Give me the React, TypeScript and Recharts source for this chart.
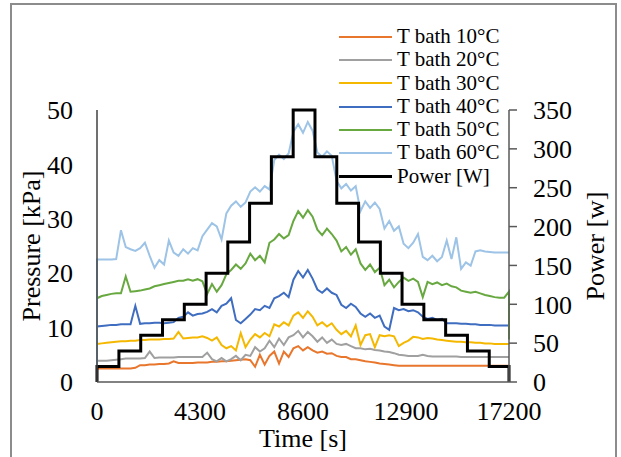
import React from "react";
import {LineChart, Line, XAxis, YAxis, Label} from "recharts";

const serif = "'Liberation Serif', 'Times New Roman', serif";

// time grid [s], every 200 s
const times = [
    0, 200, 400, 600, 800, 1000, 1200, 1400, 1600, 1800,
    2000, 2200, 2400, 2600, 2800, 3000, 3200, 3400, 3600, 3800,
    4000, 4200, 4400, 4600, 4800, 5000, 5200, 5400, 5600, 5800,
    6000, 6200, 6400, 6600, 6800, 7000, 7200, 7400, 7600, 7800,
    8000, 8200, 8400, 8600, 8800, 9000, 9200, 9400, 9600, 9800,
    10000, 10200, 10400, 10600, 10800, 11000, 11200, 11400, 11600, 11800,
    12000, 12200, 12400, 12600, 12800, 13000, 13200, 13400, 13600, 13800,
    14000, 14200, 14400, 14600, 14800, 15000, 15200, 15400, 15600, 15800,
    16000, 16200, 16400, 16600, 16800, 17000, 17200,
];

// pressure [kPa]
const tBath10 = [
    2.5, 2.5, 2.5, 2.5, 2.5, 2.5, 2.5, 2.5, 2.6, 3.1,
    3.1, 3.2, 3.2, 3.3, 3.3, 3.4, 3.8, 3.5, 3.5, 3.5,
    3.5, 3.6, 3.6, 3.6, 3.7, 3.7, 3.8, 3.8, 3.9, 4.0,
    4.1, 4.2, 4.0, 2.8, 5.0, 3.2, 4.8, 5.6, 3.4, 5.6,
    4.6, 6.2, 6.6, 5.8, 6.4, 5.8, 5.4, 5.6, 5.2, 5.3,
    4.8, 4.6, 4.6, 4.2, 4.2, 4.0, 3.8, 3.7, 3.6, 3.4,
    3.3, 3.2, 3.1, 3.0, 3.0, 3.0, 3.0, 3.0, 3.0, 3.0,
    3.0, 3.0, 3.0, 3.0, 3.0, 3.0, 3.0, 3.0, 3.0, 3.0,
    3.0, 3.0, 3.0, 3.0, 3.0, 3.0, 3.0,
];
const tBath20 = [
    3.9, 3.9, 3.9, 4.0, 4.1, 4.2, 4.3, 4.3, 4.3, 4.3,
    4.4, 5.6, 4.4, 4.5, 4.5, 4.5, 4.5, 4.6, 4.6, 4.6,
    4.6, 4.6, 4.6, 5.4, 4.2, 3.8, 4.4, 3.8, 4.2, 4.8,
    4.0, 5.0, 4.8, 6.4, 5.6, 6.2, 7.6, 6.4, 8.0, 6.8,
    8.2, 8.6, 9.4, 8.2, 9.2, 8.4, 7.4, 8.2, 7.2, 7.8,
    7.0, 6.8, 7.0, 6.6, 6.2, 6.2, 6.0, 6.1, 5.9, 5.8,
    5.6, 5.5, 5.3, 5.0, 4.9, 4.8, 4.8, 4.8, 5.0, 4.8,
    4.7, 4.7, 4.7, 4.7, 4.7, 4.7, 4.6, 4.6, 4.6, 4.6,
    4.6, 4.6, 4.6, 4.6, 4.6, 4.6, 4.6,
];
const tBath30 = [
    7.0, 7.1, 7.2, 7.3, 7.4, 7.5, 7.5, 7.6, 7.6, 7.7,
    7.7, 7.8, 7.8, 7.8, 7.9, 7.9, 8.0, 9.2, 8.0, 8.1,
    8.2, 8.2, 8.4, 8.1, 7.6, 8.2, 6.8, 6.2, 6.6, 5.8,
    9.0, 6.4, 7.8, 8.8, 8.2, 9.0, 8.4, 10.6, 10.2, 11.0,
    10.4, 12.2, 12.8, 11.8, 13.0, 12.0, 10.4, 11.0, 10.2, 10.8,
    9.6, 8.8, 9.4, 8.4, 10.4, 6.8, 8.6, 8.8, 6.4, 8.6,
    8.4, 8.6, 8.4, 6.6, 7.2, 7.6, 8.3, 8.2, 7.9, 8.1,
    8.0, 7.8, 7.7, 7.6, 7.5, 7.4, 7.4, 7.3, 7.3, 7.2,
    7.2, 7.1, 7.1, 7.0, 7.0, 7.0, 7.0,
];
const tBath40 = [
    10.2, 10.3, 10.4, 10.5, 10.5, 10.6, 10.6, 10.6, 14.0, 10.7,
    10.8, 10.8, 10.9, 10.9, 10.8, 10.9, 11.0, 11.8, 12.0, 12.8,
    12.2, 12.5, 12.6, 12.9, 13.4, 12.8, 14.0, 14.4, 15.4, 11.4,
    10.8, 11.6, 12.4, 13.4, 13.2, 14.0, 13.6, 15.4, 15.8, 16.4,
    15.6, 18.8, 20.4, 19.2, 20.6, 19.0, 17.0, 16.4, 17.2, 16.4,
    16.0, 14.2, 13.6, 14.4, 13.8, 12.6, 12.0, 12.6, 11.8, 12.2,
    10.2, 9.6, 13.6, 13.2, 13.4, 13.0, 13.2, 12.8, 12.0, 11.6,
    11.8, 11.4, 11.6, 10.8, 10.8, 10.8, 10.7, 10.7, 10.6, 10.6,
    10.5, 10.5, 10.5, 10.4, 10.4, 10.4, 10.4,
];
const tBath50 = [
    15.4, 15.8, 16.0, 16.2, 16.3, 16.3, 19.4, 16.6, 16.7, 16.8,
    17.0, 17.2, 17.6, 17.8, 18.0, 18.2, 18.4, 18.6, 18.6, 18.9,
    18.6, 18.9, 18.5, 16.2, 18.0, 16.6, 17.8, 19.8, 20.6, 21.6,
    20.8, 21.8, 23.6, 22.4, 23.2, 22.0, 25.6, 26.2, 27.2, 26.4,
    27.0, 29.6, 31.4, 30.2, 31.6, 30.4, 28.0, 27.0, 28.2, 27.2,
    26.0, 24.0, 24.8, 23.4, 24.4, 21.8, 20.6, 21.6, 20.2, 21.0,
    17.8, 18.8, 17.4, 18.4, 19.2, 18.6, 19.0, 18.4, 15.6, 18.4,
    18.0, 18.3, 17.8, 18.1, 17.6, 17.4, 16.8, 16.6, 16.4, 16.6,
    16.3, 16.0, 15.8, 15.6, 15.5, 15.5, 16.6,
];
const tBath60 = [
    22.5, 22.5, 22.5, 22.5, 22.6, 27.9, 24.8, 24.4, 24.1, 24.6,
    25.6, 23.2, 21.0, 22.4, 21.6, 26.0, 23.8, 23.2, 24.4, 23.6,
    24.6, 24.2, 26.8, 28.0, 29.2, 28.6, 26.2, 31.0, 32.4, 33.2,
    32.2, 33.0, 35.0, 35.8, 35.0, 36.0, 35.4, 40.8, 41.8, 41.0,
    42.0, 46.0, 47.4, 45.8, 47.8, 46.2, 42.2, 41.4, 42.4, 41.6,
    37.0, 35.6, 36.4, 35.2, 36.0, 31.4, 33.2, 32.0, 33.0, 31.8,
    28.2, 29.6, 27.8, 28.6, 25.4, 24.6, 25.6, 27.2, 23.0, 22.4,
    23.2, 22.2, 23.0, 26.0, 22.6, 26.6, 20.8, 22.0, 21.4, 24.0,
    24.2, 24.0, 23.9, 23.8, 23.8, 23.8, 23.8,
];
// every trace rises from this value at t = 0, the 50°C one drops at the end
const startLevel = 2.7;
const tBath50End = 7.8;

// power steps [W]
const powerTimes = [
    0, 0, 915, 1825, 2735, 3645, 4555, 5460, 6370, 7280, 8190,
    9100, 10010, 10920, 11830, 12735, 13645, 14555, 15465, 16375, 17200, 17200,
];
const powerWatts = [
    0, 20, 40, 60, 80, 100, 140, 180, 230, 290, 350,
    290, 230, 180, 140, 100, 80, 60, 40, 20, 20, 0,
];

const timeTicks = [0, 4300, 8600, 12900, 17200];
const pressureTicks = [0, 10, 20, 30, 40, 50];
const powerTicks = [0, 50, 100, 150, 200, 250, 300, 350];

const series = [
    {key: "s10", name: "T bath 10°C", color: "#E8762C", values: tBath10},
    {key: "s20", name: "T bath 20°C", color: "#A0A0A0", values: tBath20},
    {key: "s30", name: "T bath 30°C", color: "#F5B800", values: tBath30},
    {key: "s40", name: "T bath 40°C", color: "#3F6DC0", values: tBath40},
    {key: "s50", name: "T bath 50°C", color: "#68A840", values: tBath50},
    {key: "s60", name: "T bath 60°C", color: "#9DC3E6", values: tBath60},
];

const startRow: any = {t: times[0]};
series.forEach(s => startRow[s.key] = startLevel);
const rows: any[] = [
    startRow,
    ...times.map((t, i) => {
        const row: any = {t};
        series.forEach(s => row[s.key] = s.values[i]);
        return row;
    }),
    {t: times[times.length - 1], s50: tBath50End},
];
const powerData = powerTimes.map((t, i) => ({t, w: powerWatts[i]}));

const legendItems = [
    ...series.map(s => ({name: s.name, color: s.color, width: 2})),
    {name: "Power [W]", color: "#000", width: 3},
];

const tickStyle = {fill: "#000", fontSize: 26, fontFamily: serif};

function Title({x, y, angle, text}: { x: number, y: number, angle?: number, text: string }) {
    return (
        <text x={x}
              y={y}
              transform={angle ? `rotate(${angle} ${x} ${y})` : undefined}
              textAnchor="middle"
              fill="#000"
              fontSize={26}
              fontFamily={serif}
        >
            {text}
        </text>
    );
}

export default function App() {
    return (
        <div style={{position: "absolute", left: 0, top: 0, width: 621, height: 457, overflow: "hidden", background: "#fff"}}>
            <LineChart width={621} height={457} data={rows} margin={{top: 110, right: 0, bottom: 0, left: 0}}>
                <XAxis dataKey="t"
                       type="number"
                       domain={[0, 17200]}
                       ticks={timeTicks}
                       tickLine={false}
                       tickSize={0}
                       tickMargin={20}
                       height={75}
                       axisLine={{stroke: "#595959", strokeWidth: 1.5}}
                       tick={tickStyle}
                >
                    <Label content={(props: any) => {
                        const vb = props.viewBox;
                        return <Title x={vb.x + vb.width / 2} y={447} text="Time [s]"/>;
                    }}/>
                </XAxis>
                <YAxis yAxisId="p"
                       domain={[0, 50]}
                       ticks={pressureTicks}
                       width={97}
                       tickLine={false}
                       tickSize={0}
                       tickMargin={24}
                       axisLine={{stroke: "#404040", strokeWidth: 1.5}}
                       tick={tickStyle}
                >
                    <Label content={(props: any) => {
                        const vb = props.viewBox;
                        return <Title x={40} y={vb.y + vb.height / 2} angle={-90} text="Pressure [kPa]"/>;
                    }}/>
                </YAxis>
                <YAxis yAxisId="w"
                       orientation="right"
                       domain={[0, 350]}
                       ticks={powerTicks}
                       width={112}
                       tickSize={8}
                       tickMargin={16}
                       tickLine={{stroke: "#595959", strokeWidth: 1.5}}
                       axisLine={{stroke: "#595959", strokeWidth: 1.5}}
                       tick={tickStyle}
                >
                    <Label content={(props: any) => {
                        const vb = props.viewBox;
                        return <Title x={604} y={vb.y + vb.height / 2} angle={-90} text="Power [w]"/>;
                    }}/>
                </YAxis>
                {series.map(s => (
                    <Line key={s.key}
                          yAxisId="p"
                          dataKey={s.key}
                          name={s.name}
                          stroke={s.color}
                          strokeWidth={2}
                          dot={false}
                          activeDot={false}
                          isAnimationActive={false}
                    />
                ))}
                <Line yAxisId="w"
                      data={powerData}
                      dataKey="w"
                      name="Power [W]"
                      type="stepAfter"
                      stroke="#000"
                      strokeWidth={3}
                      dot={false}
                      activeDot={false}
                      isAnimationActive={false}
                />
            </LineChart>
            <div style={{position: "absolute", left: 339, top: 25, fontFamily: serif, fontSize: 21, color: "#000"}}>
                {legendItems.map(item => (
                    <div key={item.name} style={{display: "flex", alignItems: "center", height: 23.3, lineHeight: "23.3px", whiteSpace: "nowrap"}}>
                        <div style={{width: 53, height: item.width, background: item.color, marginRight: 5}}/>
                        <span>{item.name}</span>
                    </div>
                ))}
            </div>
            <div style={{position: "absolute", left: 10, top: 3, width: 607, height: 480, border: "2px solid #8c8c8c", boxSizing: "border-box", pointerEvents: "none"}}/>
        </div>
    );
}
